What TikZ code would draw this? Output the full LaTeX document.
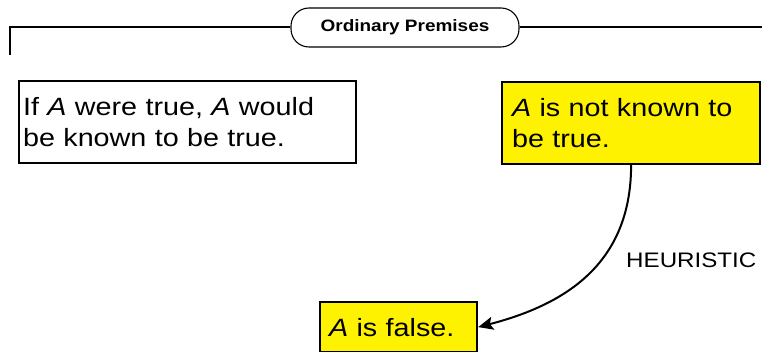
\documentclass[tikz,border=0pt]{standalone}
\usepackage{fontspec}
\setmainfont[FakeStretch=1.15]{Liberation Sans}
\usetikzlibrary{arrows.meta}
\begin{document}
\begin{tikzpicture}[x=1pt,y=1pt,
  box/.style={draw=black,line width=2.2pt,rectangle,inner ysep=0pt,align=left,
    font=\fontsize{25}{31.5}\selectfont},
  ybox/.style={box,fill=yellow},
  titlebox/.style={draw=black,line width=1.1pt,rounded corners=18pt,fill=white,
    minimum width=228pt,minimum height=39pt,inner sep=0pt,
    font=\bfseries\fontsize{16.5}{18}\selectfont},
  conn/.style={line width=2pt},
  arr/.style={line width=2pt,-{Stealth[length=15pt,width=13pt,inset=3pt]}}]
\useasboundingbox (0,0) rectangle (762,-352);
\node[titlebox] (title) at (405,-27.5) {Ordinary Premises};
\coordinate (lstart) at (10,-55);
\coordinate (lcorner) at (10,-27.5);
\coordinate (rend) at (762,-27.5);
\draw[conn] (lstart) -- (lcorner) -- (title.west);
\draw[conn] (title.east) -- (rend);
\node[box,anchor=north west,minimum width=337pt,minimum height=82pt,
  inner xsep=4pt,text width=329pt] (left) at (18,-80)
  {If \textit{A} were true, \textit{A} would\\be known to be true.};
\node[ybox,anchor=north west,minimum width=258pt,minimum height=82pt,
  inner xsep=10pt,text width=238pt] (right) at (501,-81)
  {\textit{A} is not known to\\be true.};
\node[ybox,anchor=north west,minimum width=157pt,minimum height=50pt,
  inner xsep=9pt,text width=139pt] (bot) at (319,-301)
  {\textit{A} is false.};
\draw[arr] (right.south) .. controls ([yshift=-100pt]right.south) and ([xshift=85pt,yshift=22pt]bot.east) .. (bot.east);
\node[anchor=west,inner sep=0pt,font=\fontsize{21}{24}\selectfont] (heur) at (626,-260) {HEURISTIC};
\end{tikzpicture}
\end{document}
